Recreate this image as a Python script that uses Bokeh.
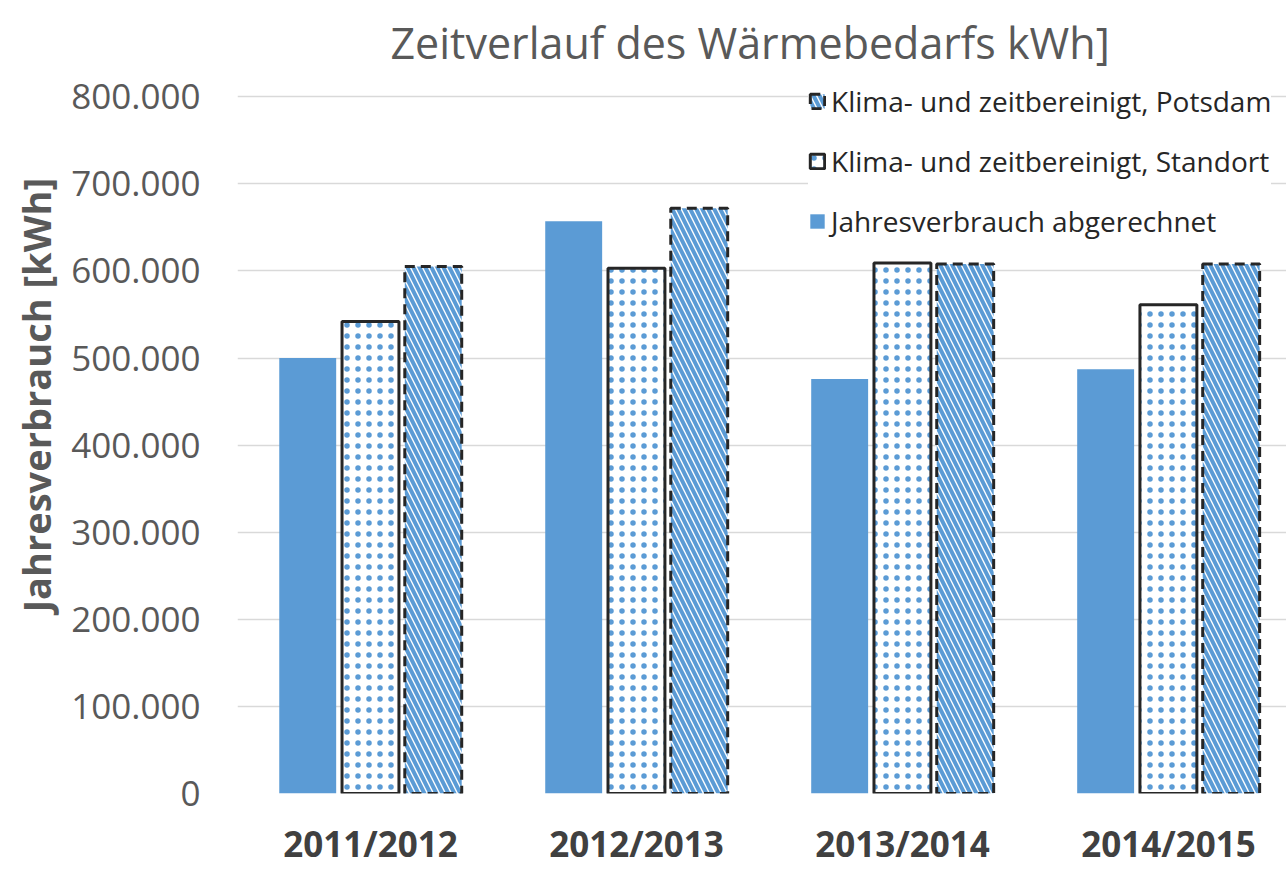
import numpy as np
from bokeh.plotting import figure
from bokeh.models import Range1d, FixedTicker, Legend, LegendItem, Title
from bokeh.embed import file_html
from bokeh.resources import INLINE

categories = ["2011/2012", "2012/2013", "2013/2014", "2014/2015"]
jahresverbrauch = [500000, 657000, 476000, 487000]
standort = [542000, 603000, 609000, 561000]
potsdam = [605000, 672000, 608000, 608000]
y_ticks = [0, 100000, 200000, 300000, 400000, 500000, 600000, 700000, 800000]
y_tick_labels = ["0", "100.000", "200.000", "300.000", "400.000", "500.000",
                 "600.000", "700.000", "800.000"]

BLUE = "#5B9BD5"
FONT = "Open Sans"

p = figure(width=1286, height=869, output_backend="svg", toolbar_location=None,
           x_range=Range1d(-0.5, 3.444), y_range=Range1d(0, 818600),
           min_border_left=237, min_border_right=0, min_border_top=80,
           min_border_bottom=76)

p.title.text = "Zeitverlauf des Wärmebedarfs kWh]"
p.title.align = "left"
p.title.offset = 153
p.title.standoff = 17
p.title.text_font = FONT
p.title.text_font_size = "43px"
p.title.text_font_style = "normal"
p.title.text_color = "#595959"

x = np.arange(len(categories))
w = 0.214
off = 0.236

r1 = p.vbar(x=x - off, top=jahresverbrauch, width=w, fill_color=BLUE, line_color=None)
r2 = p.vbar(x=x, top=standort, width=w, fill_color="white", line_color="#262626",
            line_width=3, hatch_pattern=".", hatch_color=BLUE, hatch_scale=11,
            hatch_weight=3)
r3 = p.vbar(x=x + off, top=potsdam, width=w, fill_color="white", line_color="#262626",
            line_width=3, line_dash="10 6", hatch_pattern="\\", hatch_color=BLUE,
            hatch_scale=12, hatch_weight=4)

p.xaxis.ticker = FixedTicker(ticks=list(x))
p.xaxis.major_label_overrides = {int(i): c for i, c in zip(x, categories)}
p.xaxis.major_label_text_font = FONT
p.xaxis.major_label_text_font_size = "35px"
p.xaxis.major_label_text_font_style = "bold"
p.xaxis.major_label_text_color = "#404040"
p.xaxis.major_label_text_line_height = 0.8
p.xaxis.major_label_standoff = 20
p.xaxis.axis_line_color = None
p.xaxis.major_tick_line_color = None
p.xaxis.minor_tick_line_color = None

p.yaxis.ticker = FixedTicker(ticks=y_ticks)
p.yaxis.major_label_overrides = {t: l for t, l in zip(y_ticks, y_tick_labels)}
p.yaxis.major_label_text_font = FONT
p.yaxis.major_label_text_font_size = "35px"
p.yaxis.major_label_text_color = "#595959"
p.yaxis.major_label_standoff = 31
p.yaxis.axis_line_color = None
p.yaxis.major_tick_line_color = None
p.yaxis.minor_tick_line_color = None

ytitle = Title(text="Jahresverbrauch [kWh]", align="left", offset=181,
               text_font=FONT, text_font_size="38px", text_font_style="bold",
               text_color="#595959", standoff=14)
p.add_layout(ytitle, "left")

p.xgrid.grid_line_color = None
p.ygrid.grid_line_color = "#D9D9D9"
p.ygrid.grid_line_width = 1.5
p.outline_line_color = None

legend = Legend(items=[
    LegendItem(label="Klima- und zeitbereinigt, Potsdam", renderers=[r3]),
    LegendItem(label="Klima- und zeitbereinigt, Standort", renderers=[r2]),
    LegendItem(label="Jahresverbrauch abgerechnet", renderers=[r1]),
], location=(571, 553))
legend.label_text_font = FONT
legend.label_text_font_size = "28px"
legend.label_text_color = "#262626"
legend.glyph_height = 18
legend.glyph_width = 18
legend.label_height = 20
legend.spacing = 22
legend.padding = 2
legend.margin = 0
legend.border_line_color = None
legend.background_fill_color = "white"
legend.background_fill_alpha = 1
legend.label_standoff = 5
p.add_layout(legend)

open("out.html", "w").write(file_html(p, INLINE))
